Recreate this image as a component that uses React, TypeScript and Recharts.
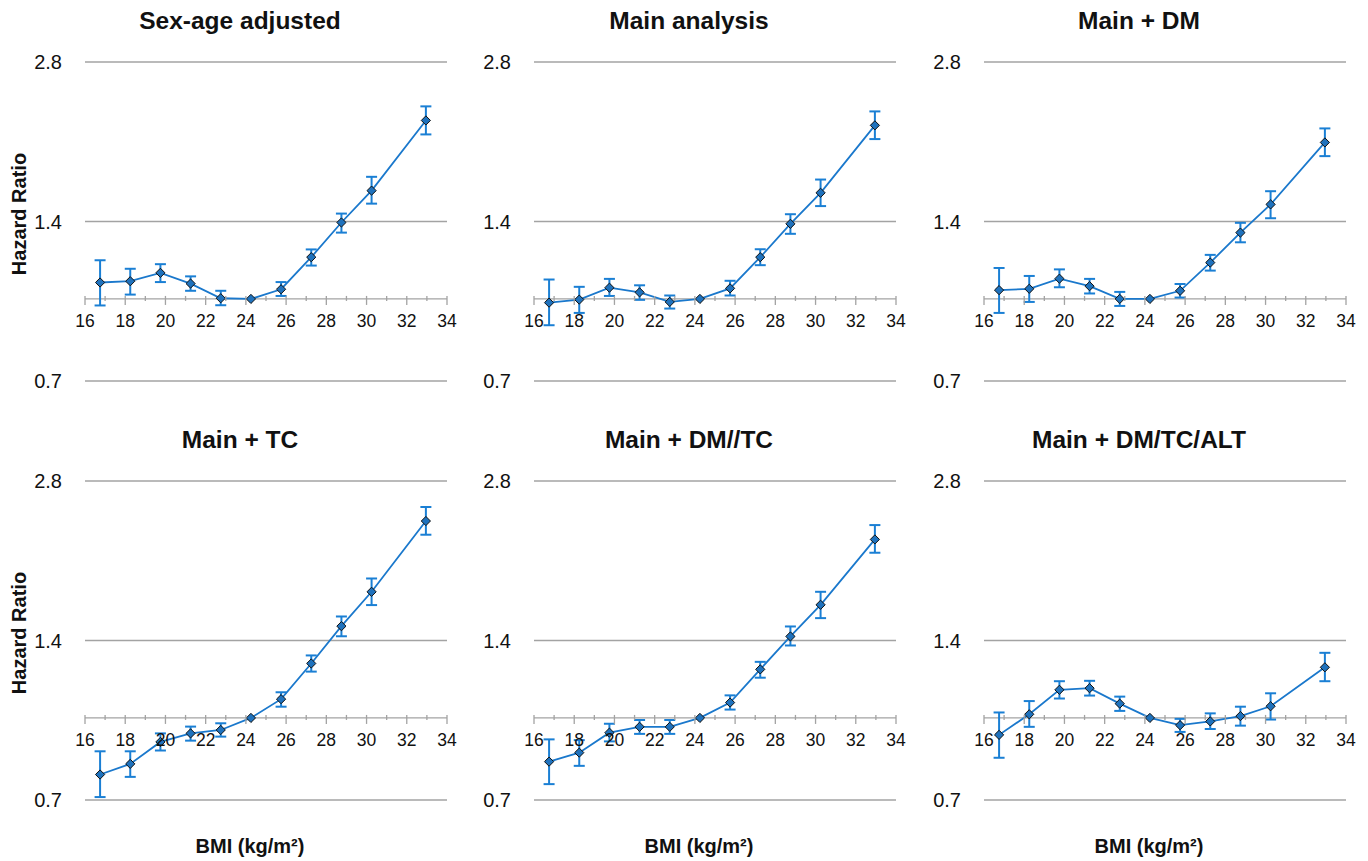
import React from 'react';
import { LineChart, Line, XAxis, YAxis, CartesianGrid, ReferenceLine, ErrorBar } from 'recharts';

// BMI category midpoints (kg/m2), same for all panels; 24.25 is the reference group
const bmi = [16.75, 18.25, 19.75, 21.25, 22.75, 24.25, 25.75, 27.25, 28.75, 30.25, 32.95];
const xTicks = [16, 17, 18, 19, 20, 21, 22, 23, 24, 25, 26, 27, 28, 29, 30, 31, 32, 33, 34];
const yTicks = [0.7, 1.4, 2.8];

const sexAgeHr = [1.074, 1.08, 1.12, 1.069, 1.003, 1.0, 1.043, 1.199, 1.394, 1.601, 2.172];
const sexAgeLo = [0.972, 1.019, 1.076, 1.036, 0.973, 1.0, 1.013, 1.156, 1.334, 1.513, 2.044];
const sexAgeHi = [1.183, 1.14, 1.163, 1.103, 1.036, 1.0, 1.076, 1.24, 1.449, 1.7, 2.309];

const mainHr = [0.984, 0.997, 1.05, 1.029, 0.987, 1.0, 1.047, 1.199, 1.386, 1.586, 2.126];
const mainLo = [0.892, 0.941, 1.013, 0.996, 0.959, 1.0, 1.015, 1.158, 1.327, 1.497, 2.003];
const mainHi = [1.088, 1.054, 1.091, 1.061, 1.015, 1.0, 1.082, 1.241, 1.445, 1.68, 2.259];

const dmHr = [1.039, 1.045, 1.092, 1.057, 1.0, 1.0, 1.036, 1.171, 1.334, 1.508, 1.974];
const dmLo = [0.941, 0.987, 1.052, 1.024, 0.97, 1.0, 1.006, 1.131, 1.279, 1.42, 1.86];
const dmHi = [1.144, 1.105, 1.137, 1.091, 1.031, 1.0, 1.067, 1.211, 1.392, 1.597, 2.098];

const tcHr = [0.782, 0.819, 0.901, 0.935, 0.949, 1.0, 1.085, 1.267, 1.49, 1.73, 2.353];
const tcLo = [0.709, 0.774, 0.868, 0.906, 0.922, 1.0, 1.05, 1.223, 1.426, 1.633, 2.217];
const tcHi = [0.865, 0.865, 0.935, 0.963, 0.977, 1.0, 1.118, 1.312, 1.554, 1.833, 2.501];

const dmTcHr = [0.827, 0.86, 0.938, 0.962, 0.962, 1.0, 1.069, 1.235, 1.425, 1.635, 2.172];
const dmTcLo = [0.75, 0.812, 0.903, 0.933, 0.933, 1.0, 1.037, 1.191, 1.37, 1.543, 2.05];
const dmTcHi = [0.911, 0.908, 0.975, 0.991, 0.991, 1.0, 1.103, 1.276, 1.488, 1.73, 2.312];

const altHr = [0.929, 1.016, 1.13, 1.138, 1.064, 1.0, 0.969, 0.985, 1.008, 1.052, 1.246];
const altLo = [0.841, 0.962, 1.088, 1.102, 1.031, 1.0, 0.941, 0.953, 0.967, 0.993, 1.173];
const altHi = [1.024, 1.076, 1.173, 1.175, 1.097, 1.0, 0.996, 1.02, 1.05, 1.113, 1.327];

const panels = [
  { title: 'Sex-age adjusted', hr: sexAgeHr, lo: sexAgeLo, hi: sexAgeHi },
  { title: 'Main analysis', hr: mainHr, lo: mainLo, hi: mainHi },
  { title: 'Main + DM', hr: dmHr, lo: dmLo, hi: dmHi },
  { title: 'Main + TC', hr: tcHr, lo: tcLo, hi: tcHi },
  { title: 'Main + DM//TC', hr: dmTcHr, lo: dmTcLo, hi: dmTcHi },
  { title: 'Main + DM/TC/ALT', hr: altHr, lo: altLo, hi: altHi },
];

const FONT = '"Liberation Sans", Arial, Helvetica, sans-serif';
const BLUE = '#1a78cc';
const ERR_BLUE = '#1a7fd4';
const GRID = '#a3a3a3';

const Y_MIN = 0.7;
const Y_MAX = 2.8;
const PLOT_W = 362;
const PLOT_H = 319;
const M_TOP = 10;
const M_BOTTOM = 10;
const M_RIGHT = 13;
const Y_AXIS_W = 85;
const CHART_W = Y_AXIS_W + PLOT_W + M_RIGHT;
const CHART_H = M_TOP + PLOT_H + M_BOTTOM + 1;
const COL_LEFT = [0, 449, 899];
const ROW_TOP = [62, 481];

// x axis crosses the y axis at HR = 1
const axisShift = (PLOT_H * Math.log(1 / Y_MIN)) / Math.log(Y_MAX / Y_MIN);

function BmiTick({ x, y, payload }: any) {
  const ay = y - axisShift;
  const major = payload.value % 2 === 0;
  return (
    <g>
      <line x1={x} x2={x} y1={ay - 3} y2={ay + (major ? 6 : 2)} stroke={GRID} strokeWidth={1.3} />
      {major && (
        <text x={x} y={ay + 28} textAnchor="middle" fontSize={17.5} fill="#111" fontFamily={FONT}>
          {payload.value}
        </text>
      )}
    </g>
  );
}

const renderDiamond = (props: any) => {
  const { cx, cy, index } = props;
  const r = 4.6;
  return (
    <polygon
      key={`d-${index}`}
      points={`${cx},${cy - r} ${cx + r},${cy} ${cx},${cy + r} ${cx - r},${cy}`}
      fill="#1f72bd"
      stroke="#111"
      strokeWidth={1}
    />
  );
};

function Panel({ title, hr, lo, hi, col, row }: any) {
  const data = bmi.map((b, i) => ({
    bmi: b,
    hr: hr[i],
    err: lo[i] === hi[i] ? null : [hr[i] - lo[i], hi[i] - hr[i]],
  }));
  const plotLeft = COL_LEFT[col] + Y_AXIS_W;
  const plotTop = ROW_TOP[row];
  return (
    <>
      <div
        style={{
          position: 'absolute',
          left: plotLeft + 155 - 200,
          top: plotTop - 53,
          width: 400,
          textAlign: 'center',
          fontSize: 24.5,
          lineHeight: '24px',
          fontWeight: 'bold',
          whiteSpace: 'nowrap',
        }}
      >
        {title}
      </div>
      <div style={{ position: 'absolute', left: COL_LEFT[col], top: plotTop - M_TOP }}>
        <LineChart
          width={CHART_W}
          height={CHART_H}
          data={data}
          margin={{ top: M_TOP, right: M_RIGHT, bottom: M_BOTTOM, left: 0 }}
        >
          <CartesianGrid vertical={false} stroke={GRID} strokeWidth={1.3} />
          <XAxis
            dataKey="bmi"
            type="number"
            domain={[16, 34]}
            ticks={xTicks}
            interval={0}
            allowDataOverflow
            axisLine={false}
            tickLine={false}
            tickSize={0}
            tickMargin={0}
            height={1}
            tick={<BmiTick />}
          />
          <YAxis
            type="number"
            scale="log"
            domain={[Y_MIN, Y_MAX]}
            ticks={yTicks}
            interval={0}
            allowDataOverflow
            width={Y_AXIS_W}
            axisLine={false}
            tickLine={false}
            tickSize={0}
            tickMargin={23}
            tickFormatter={(v: number) => v.toFixed(1)}
            tick={{ fontSize: 20, fill: '#111', fontFamily: FONT }}
          />
          <ReferenceLine y={1} stroke={GRID} strokeWidth={1.3} />
          <Line
            type="linear"
            dataKey="hr"
            stroke={BLUE}
            strokeWidth={1.8}
            dot={renderDiamond}
            activeDot={false}
            isAnimationActive={false}
          >
            <ErrorBar dataKey="err" direction="y" width={5.5} stroke={ERR_BLUE} strokeWidth={2} />
          </Line>
        </LineChart>
      </div>
      {col === 0 && (
        <div
          style={{
            position: 'absolute',
            left: 19,
            top: plotTop + PLOT_H / 2 - 8,
            transform: 'translate(-50%, -50%) rotate(-90deg)',
            fontSize: 20,
            fontWeight: 'bold',
            whiteSpace: 'nowrap',
          }}
        >
          Hazard Ratio
        </div>
      )}
      {row === 1 && (
        <div
          style={{
            position: 'absolute',
            left: plotLeft + 165 - 100,
            top: 836,
            width: 200,
            textAlign: 'center',
            fontSize: 20,
            lineHeight: '20px',
            fontWeight: 'bold',
            whiteSpace: 'nowrap',
          }}
        >
          BMI (kg/m²)
        </div>
      )}
    </>
  );
}

export default function App() {
  return (
    <div
      style={{
        position: 'absolute',
        left: 0,
        top: 0,
        width: 1368,
        height: 861,
        background: '#fff',
        color: '#111',
        fontFamily: FONT,
        overflow: 'hidden',
      }}
    >
      {panels.map((p, i) => (
        <Panel key={p.title} {...p} col={i % 3} row={Math.floor(i / 3)} />
      ))}
    </div>
  );
}
